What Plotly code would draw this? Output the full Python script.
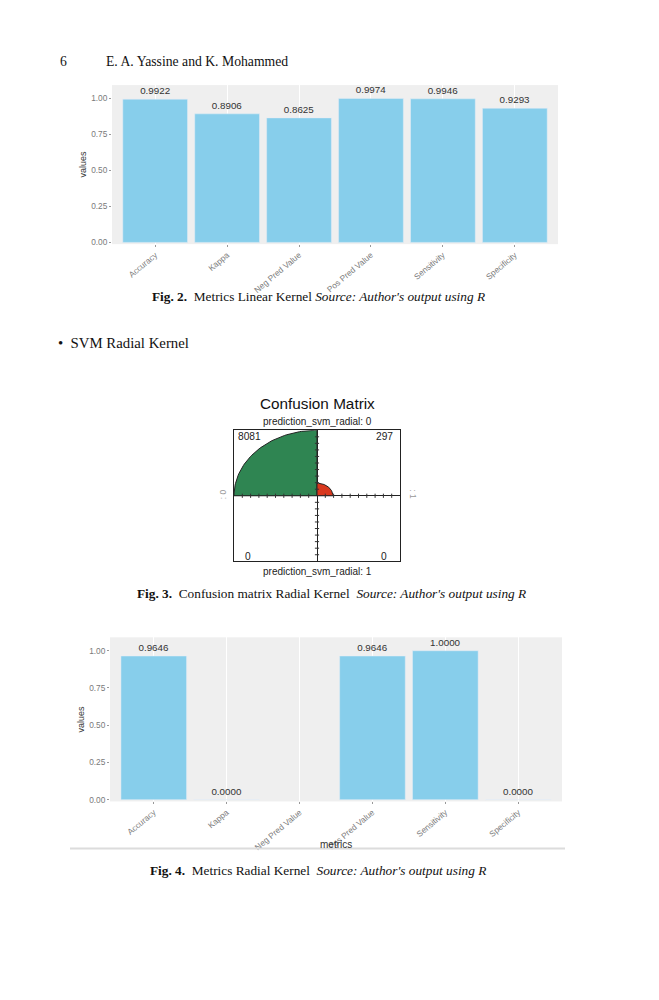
import numpy as np
import plotly.graph_objects as go

# metrics shown in both bar charts
metrics = ["Accuracy", "Kappa", "Neg Pred Value", "Pos Pred Value", "Sensitivity", "Specificity"]
linear_values = [0.9922, 0.8906, 0.8625, 0.9974, 0.9946, 0.9293]
radial_values = [0.9646, 0.0000, None, 0.9646, 1.0000, 0.0000]

# confusion matrix counts for the radial kernel (rows: prediction 0 / 1)
cm_counts = {"top_left": 8081, "top_right": 297, "bottom_left": 0, "bottom_right": 0}
cm_ticks = [-0.9, -0.8, -0.7, -0.6, -0.5, -0.4, -0.3, -0.2, -0.1,
            0.1, 0.2, 0.3, 0.4, 0.5, 0.6, 0.7, 0.8, 0.9]

W, H = 659, 1000
OFF = 8  # page body margin
YS = 1.0035  # small vertical correction seen in the rendered page
BAR = "#87CEEB"
PANEL = "#EFEFEF"
TICK_FONT = dict(family="Liberation Sans", size=8.3, color="#7a7a7a")
SERIF = "Liberation Serif"
SANS = "Liberation Sans"


def px(x):
    return (x - OFF) / W


def py(y):
    return 1 - (y * YS - OFF) / H


fig = go.Figure()

# ---- Fig. 2: metrics linear kernel
fig.add_trace(go.Bar(
    x=metrics, y=linear_values, marker_color=BAR, width=0.9,
    texttemplate="%{y:.4f}", textposition="outside",
    textfont=dict(family=SANS, size=9.8, color="#333"),
    cliponaxis=False, xaxis="x", yaxis="y", showlegend=False,
))

# ---- Fig. 4: metrics radial kernel
fig.add_trace(go.Bar(
    x=metrics, y=radial_values, marker_color=BAR, width=0.9,
    texttemplate="%{y:.4f}", textposition="outside",
    textfont=dict(family=SANS, size=9.8, color="#333"),
    cliponaxis=False, xaxis="x3", yaxis="y3", showlegend=False,
))

# ---- Fig. 3: fourfold confusion matrix
cm_max = max(cm_counts.values())
quadrants = {
    "top_left": (np.pi / 2, np.pi, "#2f8552"),
    "top_right": (0, np.pi / 2, "#d9381e"),
    "bottom_left": (np.pi, 1.5 * np.pi, "#2f8552"),
    "bottom_right": (1.5 * np.pi, 2 * np.pi, "#d9381e"),
}
for key, (a0, a1, col) in quadrants.items():
    r = np.sqrt(cm_counts[key] / cm_max)
    if r == 0:
        continue
    th = np.linspace(a0, a1, 60)
    xs = np.concatenate([[0], r * np.cos(th), [0]])
    ys = np.concatenate([[0], r * np.sin(th), [0]])
    fig.add_trace(go.Scatter(
        x=xs, y=ys, fill="toself", fillcolor=col, mode="lines",
        line=dict(color="#222", width=1), xaxis="x2", yaxis="y2",
        showlegend=False, hoverinfo="skip",
    ))

# tick marks along the centre lines
fig.add_trace(go.Scatter(
    x=cm_ticks, y=[0] * len(cm_ticks), mode="markers",
    marker=dict(symbol="line-ns", size=3, line=dict(color="#333", width=1)),
    xaxis="x2", yaxis="y2", showlegend=False, hoverinfo="skip",
))
fig.add_trace(go.Scatter(
    x=[0] * len(cm_ticks), y=cm_ticks, mode="markers",
    marker=dict(symbol="line-ew", size=3, line=dict(color="#333", width=1)),
    xaxis="x2", yaxis="y2", showlegend=False, hoverinfo="skip",
))

bar_x = dict(
    type="category", range=[-0.6, 5.6], tickangle=-40, tickfont=TICK_FONT,
    ticks="outside", ticklen=2, tickcolor="#999", showgrid=True,
    gridcolor="white", gridwidth=1, zeroline=False, showline=False,
)
bar_y = dict(
    tickvals=[0, 0.25, 0.5, 0.75, 1.0], ticktext=["0.00", "0.25", "0.50", "0.75", "1.00"],
    tickfont=TICK_FONT, ticks="outside", ticklen=2, tickcolor="#999",
    showgrid=False, zeroline=False, showline=False,
    title=dict(text="values", font=dict(family=SANS, size=9, color="#333"), standoff=3),
)

fig.update_layout(
    width=W, height=H, margin=dict(l=0, r=0, t=0, b=0),
    paper_bgcolor="white", plot_bgcolor=PANEL,
    xaxis=dict(bar_x, domain=[px(112), px(558)], anchor="y"),
    yaxis=dict(bar_y, domain=[py(244), py(85)], range=[-0.012, 1.09], anchor="x"),
    xaxis3=dict(bar_x, domain=[px(110), px(562)], anchor="y3"),
    yaxis3=dict(bar_y, domain=[py(801), py(637)], range=[-0.012, 1.09], anchor="x3"),
    xaxis2=dict(domain=[px(234), px(400)], range=[-1, 1], anchor="y2",
                showgrid=False, showticklabels=False, zeroline=True, zerolinecolor="#222",
                zerolinewidth=1.2, showline=True, linecolor="#222", linewidth=1, mirror=True),
    yaxis2=dict(domain=[py(561), py(430)], range=[-1, 1], anchor="x2",
                showgrid=False, showticklabels=False, zeroline=True, zerolinecolor="#222",
                zerolinewidth=1.2, showline=True, linecolor="#222", linewidth=1, mirror=True),
    bargap=0.1,
)

# white panel behind the confusion matrix
fig.add_shape(type="rect", xref="x2 domain", yref="y2 domain", x0=0, x1=1, y0=0, y1=1,
              fillcolor="white", line_width=0, layer="below")

ann = []


def txt(x, y, s, size, family=SERIF, color="#111", xanchor="left", angle=0):
    ann.append(dict(x=px(x), y=py(y), xref="paper", yref="paper", text=s, showarrow=False,
                    xanchor=xanchor, yanchor="middle", textangle=angle,
                    font=dict(family=family, size=size, color=color)))


# page text
txt(58, 61, "6", 13.7)
txt(104, 61, "E. A. Yassine and K. Mohammed", 13.7)
txt(318, 296, "<b>Fig. 2.</b>  Metrics Linear Kernel <i>Source: Author's output using R</i>", 13.3,
    xanchor="center")
txt(56, 343, "•  SVM Radial Kernel", 14.8)
txt(331, 593, "<b>Fig. 3.</b>  Confusion matrix Radial Kernel  <i>Source: Author's output using R</i>", 13.3,
    xanchor="center")
txt(318, 870, "<b>Fig. 4.</b>  Metrics Radial Kernel  <i>Source: Author's output using R</i>", 13.3,
    xanchor="center")
txt(336, 844, "metrics", 10, family=SANS, color="#333", xanchor="center")

# confusion matrix labels
txt(317, 403, "Confusion Matrix", 15.3, family=SANS, xanchor="center")
txt(317, 421, "prediction_svm_radial: 0", 10, family=SANS, color="#222", xanchor="center")
txt(317, 571, "prediction_svm_radial: 1", 10, family=SANS, color="#222", xanchor="center")
txt(223, 494, ": 0", 8.5, family=SANS, color="#999", xanchor="center", angle=-90)
txt(413, 494, ": 1", 8.5, family=SANS, color="#999", xanchor="center", angle=90)
txt(249, 436, str(cm_counts["top_left"]), 10.2, family=SANS, color="#222", xanchor="center")
txt(384, 436, str(cm_counts["top_right"]), 10.2, family=SANS, color="#222", xanchor="center")
txt(248, 556, str(cm_counts["bottom_left"]), 10.2, family=SANS, color="#222", xanchor="center")
txt(384, 556, str(cm_counts["bottom_right"]), 10.2, family=SANS, color="#222", xanchor="center")

fig.update_layout(annotations=ann)

# cropped edge under Fig. 4
fig.add_shape(type="line", xref="paper", yref="paper", x0=px(70), x1=px(565), y0=py(848), y1=py(848),
              line=dict(color="#dcdcdc", width=2))

fig.write_html("out.html")
